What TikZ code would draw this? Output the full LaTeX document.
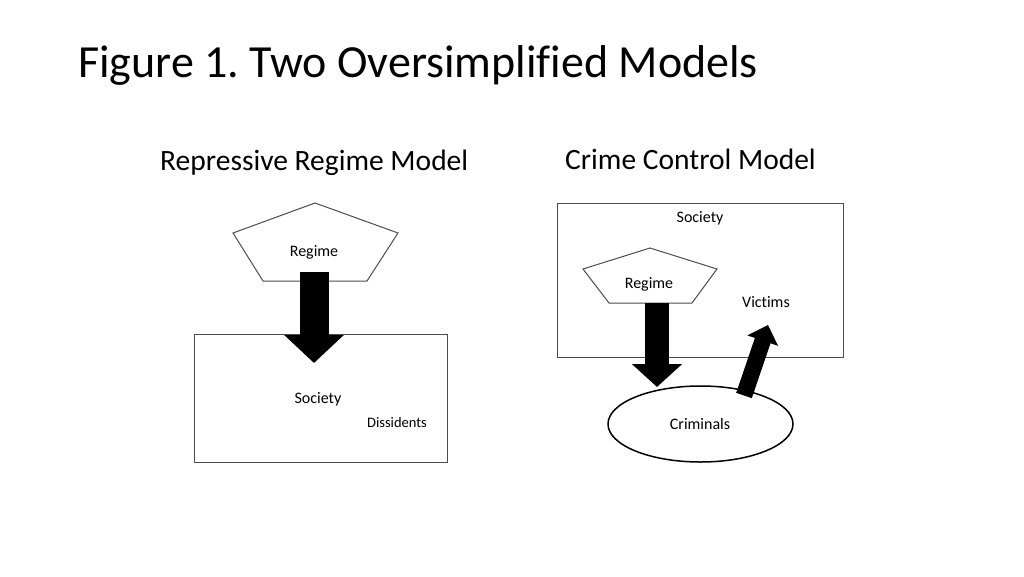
\documentclass[tikz,border=0pt]{standalone}
\usepackage{fontspec}
\setmainfont{Carlito}[Ligatures=NoCommon]
\usetikzlibrary{arrows.meta,shapes.geometric}
\begin{document}
\frenchspacing
\begin{tikzpicture}[x=1pt,y=-1pt,
  frame/.style={draw=black!70,line width=1pt},
  lbl/.style={inner sep=0pt,anchor=base,font=\fontsize{16}{18}\selectfont},
  heading/.style={inner sep=0pt,anchor=base west,font=\fontsize{29.5}{33}\selectfont}
]
\useasboundingbox (0,0) rectangle (1024,576);
\fill[white] (0,0) rectangle (1024,576);

% Title
\node[inner sep=0pt,anchor=base west,font=\fontsize{46}{50}\selectfont] (title) at (78,77) {Figure 1. Two Oversimplified Models};

% Headings
\node[heading] (h1) at (160,170.5) {Repressive Regime Model};
\node[heading] (h2) at (565,169) {Crime Control Model};

% ---- Left model ----
\draw[frame] (194,334) rectangle (447,462);
\node[lbl] (society1) at (318,403) {Society};
\node[lbl,font=\fontsize{14.5}{16}\selectfont] (diss) at (397,427) {Dissidents};
\draw[frame,fill=white] (315,203) -- (398,233) -- (367,281) -- (263,281) -- (233,233) -- cycle;
\node[lbl] (regime1) at (314,256) {Regime};
\coordinate (a1s) at (314,272);
\coordinate (a1e) at (314,363);
\draw[line width=29pt,-{Triangle[length=28pt,width=58pt]}] (a1s) -- (a1e);

% ---- Right model ----
\draw[frame] (557,203) rectangle (843,357);
\node[lbl] (society2) at (700,222) {Society};
\draw[frame,fill=white] (650,248) -- (717,269) -- (692,303) -- (609,303) -- (583,269) -- cycle;
\node[lbl] (regime2) at (649,288) {Regime};
\node[lbl] (victims) at (766,307) {Victims};
\node[draw=black,line width=1.5pt,ellipse,minimum width=185pt,minimum height=76pt,inner sep=0pt] (crim) at (700.5,424) {};
\node[lbl] (criminals) at (700,429) {Criminals};
\coordinate (a2s) at (657,303);
\coordinate (a2e) at (657,387);
\draw[line width=24pt,-{Triangle[length=23pt,width=49pt]}] (a2s) -- (a2e);
\coordinate (a3s) at (744,395.5);
\coordinate (a3e) at (768,325);
\draw[line width=16.5pt,-{Triangle[length=16.5pt,width=31.5pt]}] (a3s) -- (a3e);
\end{tikzpicture}
\end{document}
